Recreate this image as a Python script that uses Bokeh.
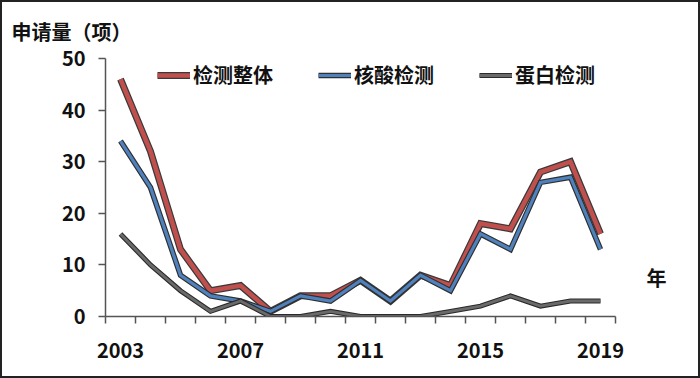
from bokeh.plotting import figure
from bokeh.layouts import column
from bokeh.models import Range1d, FixedTicker, Legend, LegendItem, Title, LinearAxis
from bokeh.embed import file_html
from bokeh.resources import INLINE

years = list(range(2003, 2020))
total = [46, 32, 13, 5, 6, 1, 4, 4, 7, 3, 8, 6, 18, 17, 28, 30, 16]
nucleic = [34, 25, 8, 4, 3, 1, 4, 3, 7, 3, 8, 5, 16, 13, 26, 27, 13]
protein = [16, 10, 5, 1, 3, 0, 0, 1, 0, 0, 0, 1, 2, 4, 2, 3, 3]
names = ["检测整体", "核酸检测", "蛋白检测"]
label_years = [2003, 2007, 2011, 2015, 2019]
y_ticks = [0, 10, 20, 30, 40, 50]
y_title = "申请量（项）"
x_title = "年"

FONT = "Noto Sans CJK SC"

p = figure(width=696, height=374, output_backend="svg", toolbar_location=None,
           x_range=Range1d(2002.5, 2019.5), y_range=Range1d(0, 50),
           min_border_left=103, min_border_right=83, min_border_top=56,
           min_border_bottom=60)
p.grid.visible = False
p.outline_line_color = None
p.background_fill_color = "white"
p.border_fill_color = "white"

# x axis
xax = p.xaxis[0]
xax.ticker = FixedTicker(ticks=label_years, minor_ticks=[y - 0.5 for y in years] + [2019.5])
xax.major_tick_line_color = None
xax.major_tick_out = 7
xax.major_tick_in = 0
xax.minor_tick_out = 7
xax.minor_tick_in = 0
xax.minor_tick_line_color = "#555555"
xax.minor_tick_line_width = 1.5
xax.axis_line_color = "#555555"
xax.axis_line_width = 1.5
xax.major_label_standoff = 19
xax.major_label_text_font = FONT
xax.major_label_text_font_style = "bold"
xax.major_label_text_font_size = "20px"
xax.major_label_text_color = "#111111"

# y axis
yax = p.yaxis[0]
yax.ticker = FixedTicker(ticks=y_ticks)
yax.minor_tick_line_color = None
yax.major_tick_out = 7
yax.major_tick_in = 0
yax.major_tick_line_color = "#555555"
yax.major_tick_line_width = 1.5
yax.axis_line_color = "#555555"
yax.axis_line_width = 1.5
yax.major_label_standoff = 13
yax.major_label_text_font = FONT
yax.major_label_text_font_style = "bold"
yax.major_label_text_font_size = "20px"
yax.major_label_text_color = "#111111"

# right-side helper axis carrying the "年" label
rax = LinearAxis(ticker=FixedTicker(ticks=[7.5]), major_label_overrides={7.5: x_title},
                 axis_line_color=None, major_tick_line_color=None,
                 minor_tick_line_color=None, major_label_standoff=25,
                 major_label_text_font=FONT, major_label_text_font_style="bold",
                 major_label_text_font_size="20px", major_label_text_color="#111111")
p.add_layout(rax, "right")

series = [
    (total, "#c0504d", "#3a3a3a", 7, 4.5),
    (nucleic, "#4f81bd", "#2f2f2f", 5.5, 3.2),
    (protein, "#6a6a6a", "#2a2a2a", 5, 2.8),
]
items = []
for (vals, col, edge, w_out, w_in), name in zip(series, names):
    r1 = p.line(years, vals, line_color=edge, line_width=w_out, line_join="miter")
    r2 = p.line(years, vals, line_color=col, line_width=w_in, line_join="miter")
    items.append(LegendItem(label=name, renderers=[r1, r2]))

legend = Legend(items=items, orientation="horizontal", location=(52, 227),
                glyph_width=33, glyph_height=28, label_height=28,
                label_standoff=3, spacing=45, padding=0, margin=0,
                border_line_color=None, background_fill_alpha=0,
                label_text_font=FONT, label_text_font_style="bold",
                label_text_font_size="20px", label_text_color="#111111")
p.add_layout(legend, "center")

p.add_layout(Title(text=y_title, text_font=FONT, text_font_style="bold",
                   text_font_size="20px", text_color="#111111", align="left",
                   vertical_align="top", offset=-94, standoff=22), "above")

layout = column(p, styles={"border": "2px solid #222"})

open("out.html", "w").write(file_html(layout, INLINE))
